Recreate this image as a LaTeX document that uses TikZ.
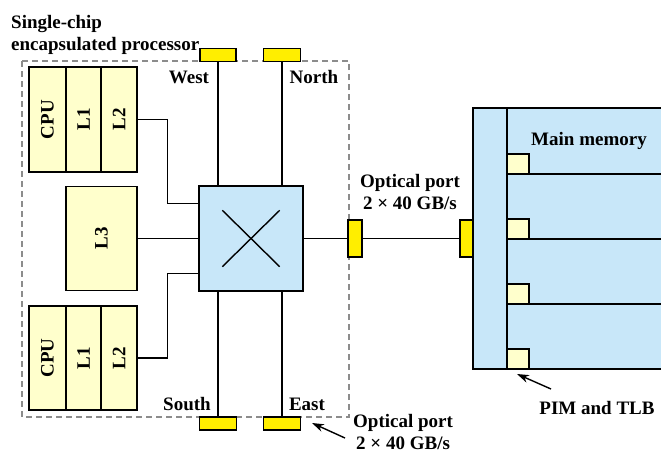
\documentclass[tikz,border=0pt]{standalone}
\usepackage{fontspec}
\setmainfont{Liberation Serif}
\usetikzlibrary{arrows.meta}
\definecolor{portyellow}{HTML}{FFEE00}
\definecolor{cacheyellow}{HTML}{FFFFCC}
\definecolor{memblue}{HTML}{C8E7F9}
\definecolor{dashgray}{HTML}{8C8C8C}
\tikzset{
  lbl/.style={font=\fontsize{19}{22}\selectfont\bfseries, inner sep=0, align=center},
  port/.style={draw, fill=portyellow, inner sep=0, line width=1.4pt},
  cache/.style={draw, fill=cacheyellow, inner sep=0, line width=1.4pt, font=\fontsize{19}{21}\selectfont\bfseries},
  blu/.style={draw, fill=memblue, inner sep=0, line width=1.4pt},
  wire/.style={line width=1.4pt},
  pointer/.style={line width=1.4pt, -{Stealth[length=12pt,width=8pt]}}
}
\begin{document}
\begin{tikzpicture}[x=1pt,y=-1pt]
\useasboundingbox (0,0) rectangle (661,472);
% chip outline
\draw[dashgray, dash pattern=on 6pt off 4pt, line width=1.5pt] (22,61) rectangle (349,417);
% memory
\node[blu, minimum width=190, minimum height=261] (mem) at (568,238.5) {};
\draw[wire] (507,108) -- (507,369);
\foreach \y in {174,239,304} \draw[wire] (507,\y) -- (663,\y);
\foreach \i/\y in {1/164,2/229,3/294,4/359}
  \node[cache, minimum width=22, minimum height=20] (pim\i) at (518,\y) {};
% CPU blocks
\node[cache, minimum width=37, minimum height=105] (cpuA) at (47.5,119.5) {\rotatebox{90}{CPU}};
\node[cache, minimum width=35, minimum height=105] (l1A) at (83.5,119.5) {\rotatebox{90}{L1}};
\node[cache, minimum width=36, minimum height=105] (l2A) at (119,119.5) {\rotatebox{90}{L2}};
\node[cache, minimum width=71, minimum height=104] (l3) at (101.5,238.5) {\rotatebox{90}{L3}};
\node[cache, minimum width=37, minimum height=104] (cpuB) at (47.5,358) {\rotatebox{90}{CPU}};
\node[cache, minimum width=35, minimum height=104] (l1B) at (83.5,358) {\rotatebox{90}{L1}};
\node[cache, minimum width=36, minimum height=104] (l2B) at (119,358) {\rotatebox{90}{L2}};
% switch
\node[blu, minimum width=104, minimum height=105] (switch) at (251,238.5) {};
\draw[wire] ([shift={(24,25)}]switch.north west) -- ([shift={(-24,-25)}]switch.south east);
\draw[wire] ([shift={(-24,25)}]switch.north east) -- ([shift={(24,-25)}]switch.south west);
% ports
\node[port, minimum width=36, minimum height=13] (portW) at (218,55) {};
\node[port, minimum width=37, minimum height=13] (portN) at (282,55) {};
\node[port, minimum width=37, minimum height=13] (portS) at (218,423.5) {};
\node[port, minimum width=37, minimum height=13] (portE) at (282,423.5) {};
\node[port, minimum width=14, minimum height=37] (portR) at (355,238.5) {};
\node[port, minimum width=13, minimum height=37] (portM) at (466.5,238.5) {};
% wires
\draw[wire] (portW.south) -- (portW.south |- switch.north);
\draw[wire] (portN.south) -- (portN.south |- switch.north);
\draw[wire] (portS.north) -- (portS.north |- switch.south);
\draw[wire] (portE.north) -- (portE.north |- switch.south);
\draw[wire] (l2A.east) -- ++(30,0) |- ([yshift=-18pt]switch.north west);
\draw[wire] (l2B.east) -- ++(30,0) |- ([yshift=18pt]switch.south west);
\draw[wire] (l3.east) -- (switch.west);
\draw[wire] (switch.east) -- (portR.west);
\draw[wire] (portR.east) -- (portM.west);
% labels
\node[lbl, anchor=base west] (t1) at (11,28) {Single-chip};
\node[lbl, anchor=base west] (t2) at (11,50) {encapsulated processor};
\node[lbl, anchor=base] (west) at (189,83) {West};
\node[lbl, anchor=base] (north) at (314,83) {North};
\node[lbl, anchor=base] (south) at (187,410) {South};
\node[lbl, anchor=base] (east) at (307,410) {East};
\node[lbl, anchor=base] (mm) at (589,145) {Main memory};
\node[lbl, anchor=base] (op1) at (410,209) {Optical port\\2 × 40 GB/s};
\node[lbl, anchor=base west] (op2) at (353,449) {Optical port\\2 × 40 GB/s};
\node[lbl, anchor=base] (pim) at (597,414) {PIM and TLB};
% pointers
\coordinate (pA) at (345,438);
\coordinate (pB) at (312,423);
\coordinate (pC) at (551,389);
\coordinate (pD) at (517,374);
\draw[pointer] (pA) -- (pB);
\draw[pointer] (pC) -- (pD);
\end{tikzpicture}
\end{document}
